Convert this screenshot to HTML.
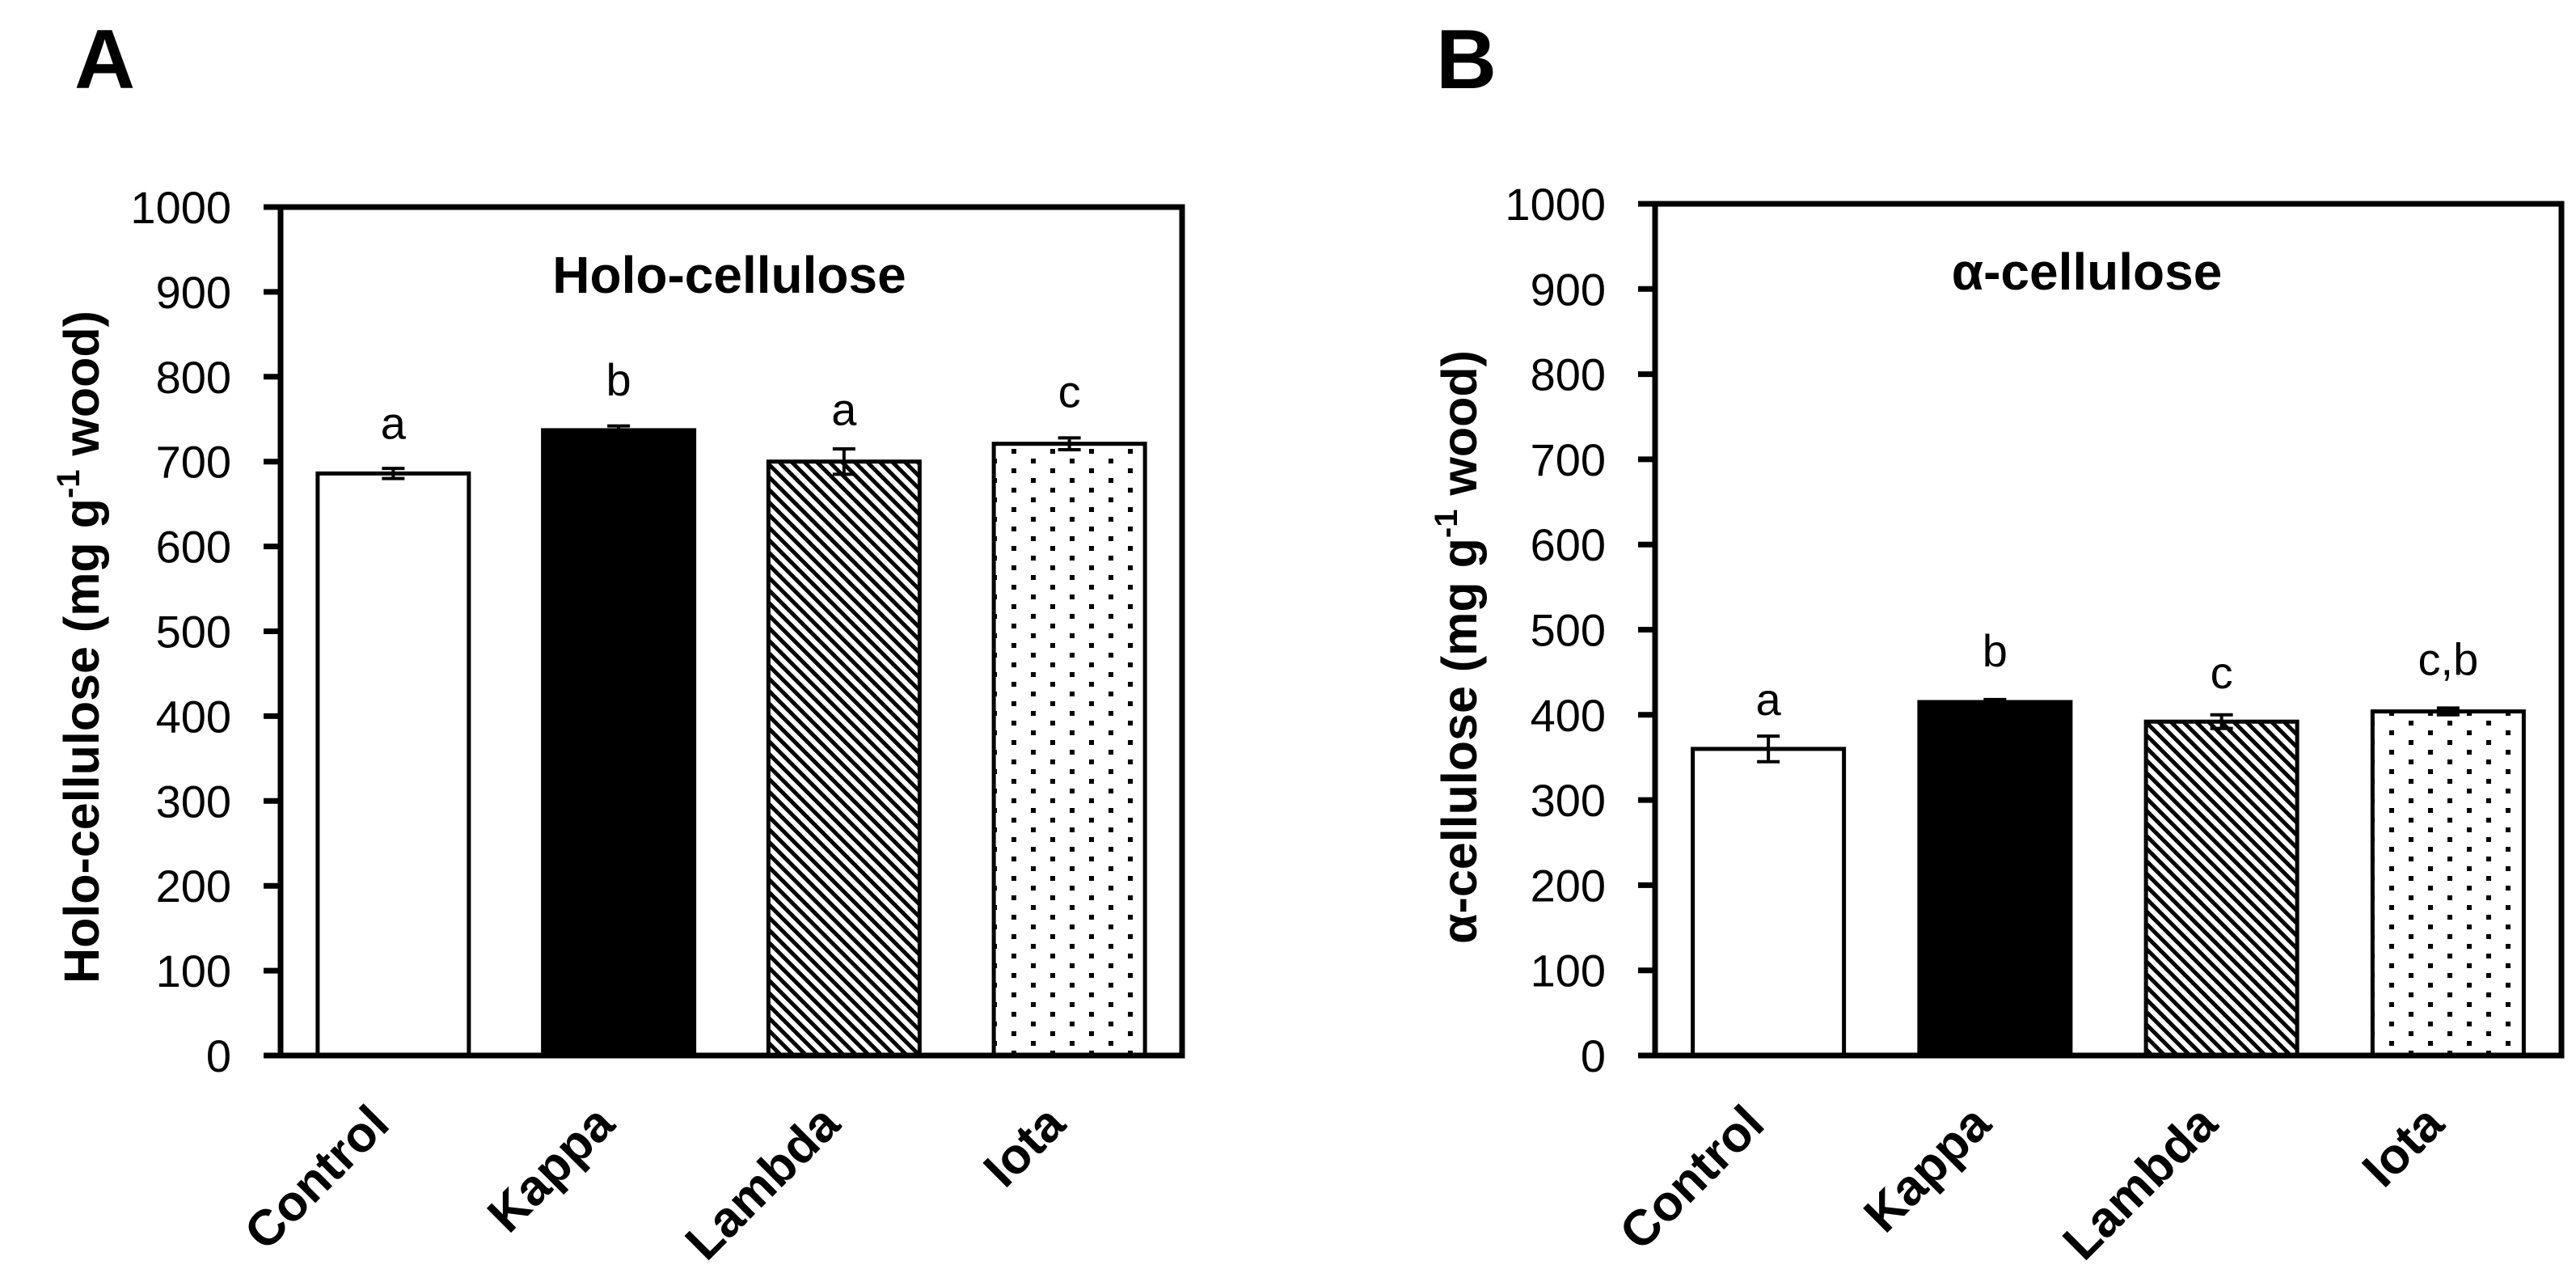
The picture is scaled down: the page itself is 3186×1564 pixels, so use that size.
<!DOCTYPE html>
<html><head><meta charset="utf-8"><style>
html,body{margin:0;padding:0;background:#fff;}
svg{display:block;font-family:"Liberation Sans",sans-serif;}
</style></head><body>
<svg id="chart" width="3186" height="1564" viewBox="0 0 3186 1564" xmlns="http://www.w3.org/2000/svg">
<defs>
<pattern id="hatch" patternUnits="userSpaceOnUse" width="11" height="11" patternTransform="rotate(-45)">
<rect x="0" y="0" width="11" height="11" fill="#fff"/><rect x="0" y="0" width="5" height="11" fill="#000"/>
</pattern>
<pattern id="dots" patternUnits="userSpaceOnUse" width="48" height="24" x="0" y="0">
<rect width="48" height="24" fill="#fff"/><rect x="3" y="3" width="6" height="6" fill="#000"/><rect x="27" y="15" width="6" height="6" fill="#000"/>
</pattern>
</defs>
<text x="92" y="109" font-size="104" font-weight="bold">A</text>
<text x="1776" y="109" font-size="104" font-weight="bold">B</text>
</svg>
<script>
const categories = ["Control","Kappa","Lambda","Iota"];
const holoValues = [686, 737, 700, 721];
const holoErrors = [6, 5, 15, 7];
const holoLetters = ["a","b","a","c"];
const holoLetterPos = [727, 778, 743, 764];
const alphaValues = [360, 415, 392, 404];
const alphaErrors = [15, 3, 8, 4];
const alphaLetters = ["a","b","c","c,b"];
const alphaLetterPos = [400, 457, 431, 447];
const yTicks = [0,100,200,300,400,500,600,700,800,900,1000];

const NS = "http://www.w3.org/2000/svg";
const svg = document.getElementById("chart");
const fills = ["#fff","#000","url(#hatch)","url(#dots)"];
const fillNames = ["control","kappa","lambda","iota"];
function mk(tag, attrs, parent){
  const e = document.createElementNS(NS, tag);
  for (const k in attrs) e.setAttribute(k, attrs[k]);
  (parent||svg).appendChild(e);
  return e;
}
function panel(id, L, R, T, B, title, titleX, yTitle, yTitleX, values, errors, letters, letterPos){
  const g = mk("g", {});
  
  
  const y = v => B - (v/1000)*(B-T);
  const cw = (R-L)/categories.length;
  const x = i => L + cw*(i+0.5);
  const bw = 187;
  values.forEach((v,i)=>{
    const r = mk("rect", {x:x(i)-bw/2, y:y(v), width:bw, height:B-y(v), fill:fills[i], stroke:"#000", "stroke-width":5}, g);
    
    
    const e = mk("path", {d:`M${x(i)},${y(v+errors[i])}V${y(v-errors[i])}M${x(i)-14},${y(v+errors[i])}H${x(i)+14}M${x(i)-14},${y(v-errors[i])}H${x(i)+14}`, stroke:"#000", "stroke-width":4, fill:"none"}, g);
    
    
    const t = mk("text", {x:x(i), y:y(letterPos[i]), "font-size":56, "text-anchor":"middle"}, g);
    t.textContent = letters[i];
    
    
    const c = mk("text", {x:0, y:0, "font-size":62, "font-weight":"bold", "text-anchor":"end", transform:`translate(${x(i)-2},${B+88}) rotate(-45)`}, g);
    c.textContent = categories[i];
    
    
  });
  const f = mk("rect", {x:L, y:T, width:R-L, height:B-T, fill:"none", stroke:"#000", "stroke-width":7}, g);
  
  
  yTicks.forEach(v=>{
    const tk = mk("line", {x1:L-21, x2:L, y1:y(v), y2:y(v), stroke:"#000", "stroke-width":7}, g);
    
    
    const tl = mk("text", {x:L-61, y:y(v)+20, "font-size":56, "text-anchor":"end"}, g);
    tl.textContent = v;
    
    
  });
  const tt = mk("text", {x:titleX, y:T+106, "font-size":64, "font-weight":"bold", "text-anchor":"middle"}, g);
  tt.textContent = title;
  
  
  const yt = mk("text", {x:0, y:0, "font-size":61, "font-weight":"bold", "text-anchor":"middle", transform:`translate(${yTitleX},800) rotate(-90)`}, g);
  
  
  const s1 = mk("tspan", {}, yt); s1.textContent = yTitle + " (mg g";
  const s2 = mk("tspan", {dy:-24, "font-size":40}, yt); s2.textContent = "-1";
  const s3 = mk("tspan", {dy:24}, yt); s3.textContent = " wood)";
}
panel("a", 347, 1462, 256, 1305, "Holo-cellulose", 902, "Holo-cellulose", 122, holoValues, holoErrors, holoLetters, holoLetterPos);
panel("b", 2047, 3168, 252, 1305, "α-cellulose", 2581, "α-cellulose", 1826, alphaValues, alphaErrors, alphaLetters, alphaLetterPos);
</script>
</body></html>
